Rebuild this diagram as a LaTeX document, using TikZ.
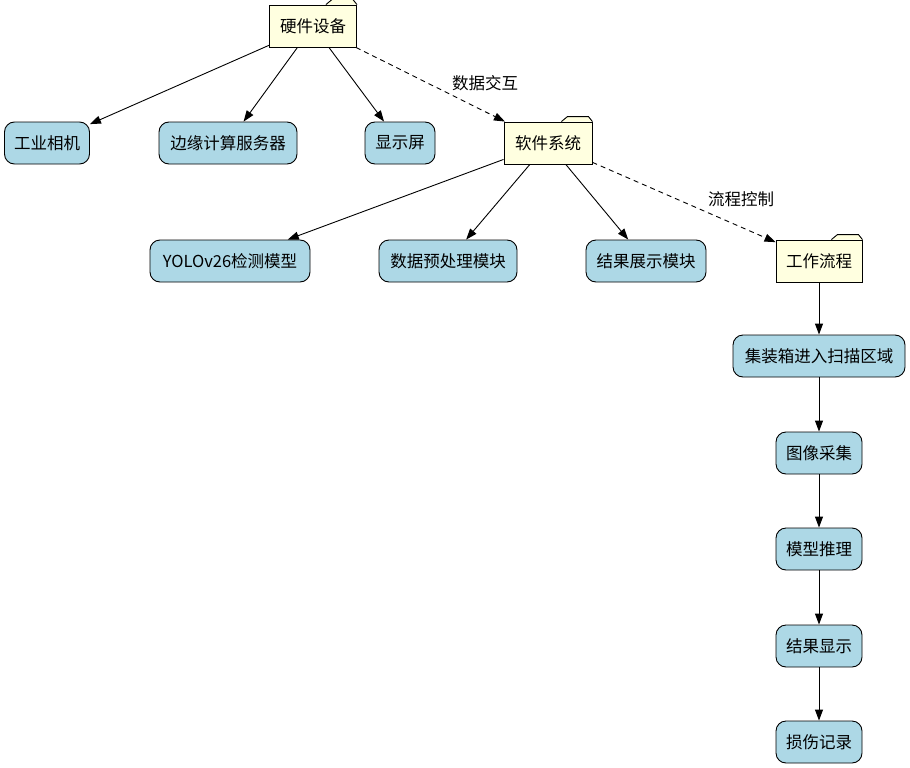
\documentclass[tikz,border=0pt]{standalone}
\usepackage{fontspec}
\setmainfont{Noto Sans CJK SC}
\usetikzlibrary{arrows.meta}
\definecolor{lb}{RGB}{173,216,230}
\definecolor{ly}{RGB}{255,255,224}
\begin{document}
\begin{tikzpicture}[x=1pt,y=-1pt,line width=0.9pt,
  box/.style={draw,fill=lb,rounded corners=10pt,minimum height=42pt,inner xsep=8pt,font=\fontsize{16.5}{18}\selectfont},
  folder/.style={draw,fill=ly,minimum height=42pt,minimum width=86pt,inner xsep=8pt,font=\fontsize{16.5}{18}\selectfont,
    append after command={\pgfextra{\draw[fill=ly,line width=0.9pt] ([xshift=-31pt]\tikzlastnode.north east) -- ++(6,-5) -- ([xshift=-4pt,yshift=5pt]\tikzlastnode.north east) -- (\tikzlastnode.north east);}}},
  arr/.style={-{Triangle[length=11pt,width=8pt]}},
  dsh/.style={dash pattern=on 5pt off 4pt},
  lab/.style={font=\fontsize{16.5}{18}\selectfont,anchor=center,inner sep=1pt}]
\useasboundingbox (0,0) rectangle (910,768);
\node[folder,minimum width=87pt] (hw) at (313,26) {硬件设备};
\node[box,minimum width=85pt] (cam) at (47,143) {工业相机};
\node[box,minimum width=138pt] (srv) at (228,143) {边缘计算服务器};
\node[box,minimum width=70pt] (scr) at (400,143) {显示屏};
\node[folder,minimum width=88pt] (sw) at (548,143) {软件系统};
\node[box,minimum width=160pt] (yolo) at (230,261) {YOLOv26检测模型};
\node[box,minimum width=138pt] (pre) at (448,261) {数据预处理模块};
\node[box,minimum width=120pt] (show) at (646,261) {结果展示模块};
\node[folder,minimum width=86pt] (wf) at (819,261) {工作流程};
\node[box,minimum width=172pt] (s1) at (819,356) {集装箱进入扫描区域};
\node[box,minimum width=86pt] (s2) at (819,453) {图像采集};
\node[box,minimum width=86pt] (s3) at (819,549) {模型推理};
\node[box,minimum width=86pt] (s4) at (819,646) {结果显示};
\node[box,minimum width=86pt] (s5) at (819,742) {损伤记录};
\draw[arr] (hw) -- (cam);
\draw[arr] (hw) -- (srv);
\draw[arr] (hw) -- (scr);
\draw[arr,dsh] (hw) -- (sw);
\draw[arr] (sw) -- (yolo);
\draw[arr] (sw) -- (pre);
\draw[arr] (sw) -- (show);
\draw[arr,dsh] (sw) -- (wf);
\node[lab] (l1) at (485,83) {数据交互};
\node[lab] (l2) at (741,199) {流程控制};
\draw[arr] (wf) -- (s1);
\draw[arr] (s1) -- (s2);
\draw[arr] (s2) -- (s3);
\draw[arr] (s3) -- (s4);
\draw[arr] (s4) -- (s5);
\end{tikzpicture}
\end{document}
